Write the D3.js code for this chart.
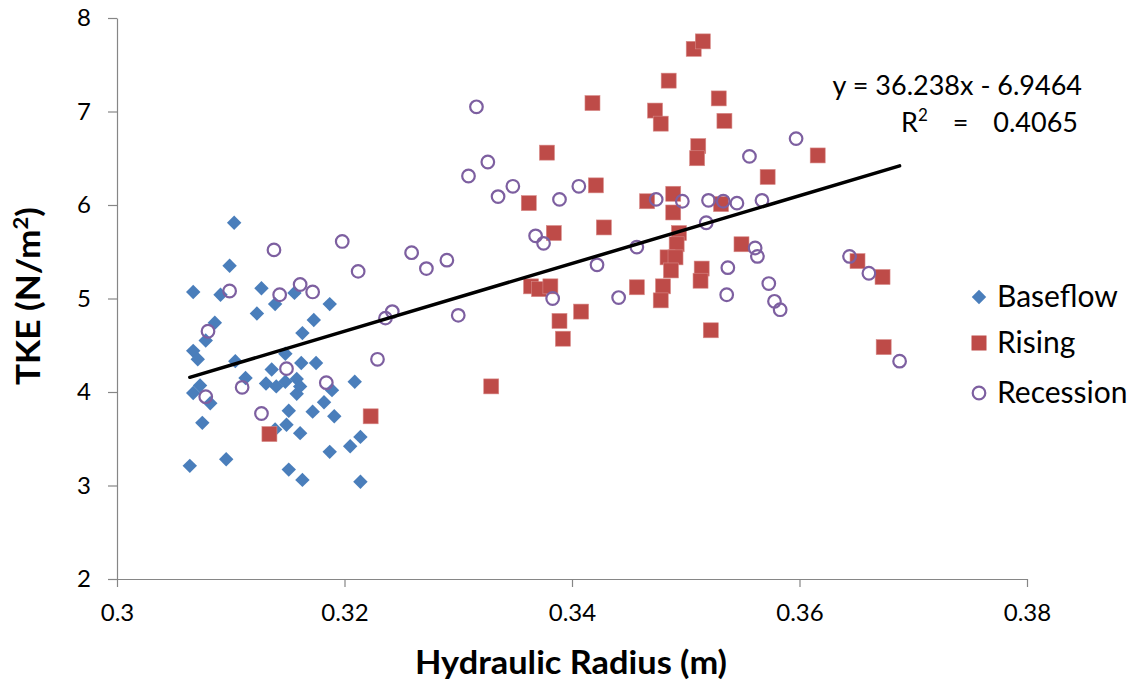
<!DOCTYPE html>
<html>
<head>
<meta charset="utf-8">
<script src="https://cdn.jsdelivr.net/npm/d3@7"></script>
<style>
  html, body { margin: 0; padding: 0; background: #fff; }
  svg { display: block; }
  text { font-family: Lato, "Open Sans", sans-serif; }
</style>
</head>
<body>
<svg id="chart" width="1138" height="683"></svg>
<script>
// ---- data ----
const xTicks = [0.3, 0.32, 0.34, 0.36, 0.38];
const xTickLabels = ["0.3", "0.32", "0.34", "0.36", "0.38"];
const yTicks = [2, 3, 4, 5, 6, 7, 8];
const seriesNames = ["Baseflow", "Rising", "Recession"];

const baseflowX = [0.3064,0.3067,0.3067,0.3071,0.3067,0.3073,0.3075,0.3078,0.3082,0.3086,0.3091,0.3096,0.3099,0.3103,0.3104,0.3113,0.3123,0.3127,0.3131,0.3136,0.3139,0.3140,0.3139,0.3148,0.3148,0.3149,0.3151,0.3151,0.3156,0.3158,0.3158,0.3161,0.3161,0.3162,0.3163,0.3163,0.3173,0.3172,0.3175,0.3182,0.3187,0.3189,0.3187,0.3191,0.3205,0.3209,0.3214,0.3214];
const baseflowY = [3.21,5.07,4.44,4.35,3.99,4.07,3.67,4.55,3.88,4.74,5.04,3.28,5.35,5.81,4.33,4.15,4.84,5.11,4.09,4.24,4.94,4.06,3.60,4.41,4.11,3.65,3.80,3.17,5.06,4.14,3.98,4.06,3.56,4.31,4.63,3.06,4.77,3.79,4.31,3.89,4.94,4.02,3.36,3.74,3.42,4.11,3.52,3.04];

const risingX = [0.3134,0.3223,0.3329,0.3362,0.3378,0.3418,0.3384,0.3364,0.3371,0.3381,0.3389,0.3392,0.3408,0.3421,0.3428,0.3457,0.3466,0.3473,0.3478,0.3485,0.3489,0.3489,0.3494,0.3492,0.3484,0.3491,0.3487,0.3480,0.3478,0.3507,0.3515,0.3511,0.3510,0.3514,0.3513,0.3522,0.3529,0.3534,0.3531,0.3549,0.3572,0.3616,0.3651,0.3673,0.3674];
const risingY = [3.55,3.74,4.06,6.02,6.56,7.09,5.70,5.13,5.10,5.13,4.76,4.57,4.86,6.21,5.76,5.12,6.04,7.01,6.87,7.33,6.12,5.92,5.70,5.58,5.44,5.44,5.30,5.13,4.98,7.67,7.75,6.63,6.50,5.32,5.19,4.66,7.14,6.90,6.01,5.58,6.30,6.53,5.40,5.23,4.48];

const recessionX = [0.3138,0.3198,0.3212,0.3099,0.3161,0.3143,0.3172,0.3236,0.3242,0.3080,0.3149,0.3229,0.3184,0.3110,0.3078,0.3127,0.3316,0.3326,0.3309,0.3348,0.3335,0.3389,0.3406,0.3368,0.3375,0.3259,0.3272,0.3290,0.3422,0.3457,0.3383,0.3441,0.3300,0.3597,0.3556,0.3474,0.3497,0.3520,0.3533,0.3545,0.3567,0.3518,0.3561,0.3563,0.3537,0.3536,0.3573,0.3578,0.3583,0.3644,0.3661,0.3688];
const recessionY = [5.52,5.61,5.29,5.08,5.15,5.04,5.07,4.79,4.86,4.65,4.25,4.35,4.10,4.05,3.95,3.77,7.05,6.46,6.31,6.20,6.09,6.06,6.20,5.67,5.59,5.49,5.32,5.41,5.36,5.55,5.00,5.01,4.82,6.71,6.52,6.06,6.04,6.05,6.04,6.02,6.05,5.81,5.54,5.45,5.33,5.04,5.16,4.97,4.88,5.45,5.27,4.33];

const trendSlope = 36.238;
const trendIntercept = -6.9464;
const trendLabel = "y = 36.238x - 6.9464";
const r2Value = "0.4065";

// ---- layout ----
const svg = d3.select("#chart");
const x = d3.scaleLinear().domain([0.3, 0.38]).range([117, 1027]);
const y = d3.scaleLinear().domain([2, 8]).range([579, 18]);
const axisColor = "#868686";

// axes
const gx = svg.append("g").attr("transform", `translate(0,${y(2)})`)
  .call(d3.axisBottom(x).tickValues(xTicks).tickFormat((d, i) => xTickLabels[i]).tickSize(8).tickSizeOuter(0).tickPadding(17));
const gy = svg.append("g").attr("transform", `translate(${x(0.3)},0)`)
  .call(d3.axisLeft(y).tickValues(yTicks).tickFormat(d3.format("d")).tickSize(9).tickSizeOuter(0).tickPadding(17));
[gx, gy].forEach(g => {
  g.select(".domain").attr("stroke", axisColor).attr("stroke-width", 1.2);
  g.selectAll(".tick line").attr("stroke", axisColor).attr("stroke-width", 1.2);
  g.selectAll(".tick text").attr("fill", "#000").style("font-size", "24px").style("font-family", "Lato, sans-serif");
});

// series
const colors = { Baseflow: "#4A7EBB", Rising: "#BE4B48", Recession: "#7D5FA0" };
const baseflow = baseflowX.map((v, i) => ({ x: v, y: baseflowY[i] }));
const rising = risingX.map((v, i) => ({ x: v, y: risingY[i] }));
const recession = recessionX.map((v, i) => ({ x: v, y: recessionY[i] }));

const diamond = d3.symbol().type(d3.symbolSquare).size(104)();
svg.append("g").selectAll("path").data(baseflow).join("path")
  .attr("d", diamond)
  .attr("transform", d => `translate(${x(d.x)},${y(d.y)}) rotate(45)`)
  .attr("fill", colors.Baseflow);

svg.append("g").selectAll("rect").data(rising).join("rect")
  .attr("x", d => x(d.x) - 7.5).attr("y", d => y(d.y) - 7.5)
  .attr("width", 15).attr("height", 15)
  .attr("fill", colors.Rising).attr("stroke", "#d88a88").attr("stroke-width", 0.6);

svg.append("g").selectAll("circle").data(recession).join("circle")
  .attr("cx", d => x(d.x)).attr("cy", d => y(d.y)).attr("r", 6.3)
  .attr("fill", "none").attr("stroke", colors.Recession).attr("stroke-width", 2.2);

// trend line over data range
const allX = baseflowX.concat(risingX, recessionX);
const xmin = d3.min(allX), xmax = d3.max(allX);
svg.append("line")
  .attr("x1", x(xmin)).attr("y1", y(trendSlope * xmin + trendIntercept))
  .attr("x2", x(xmax)).attr("y2", y(trendSlope * xmax + trendIntercept))
  .attr("stroke", "#000").attr("stroke-width", 3.5).attr("stroke-linecap", "round");

// equation
svg.append("text").attr("x", 1082).attr("y", 95).attr("text-anchor", "end")
  .style("font-size", "27px").text(trendLabel);
const r2 = svg.append("text").attr("x", 1078).attr("y", 132).attr("text-anchor", "end")
  .style("font-size", "27px").style("word-spacing", "18px");
r2.append("tspan").text("R");
r2.append("tspan").text("2").attr("dy", -11).style("font-size", "17px");
r2.append("tspan").text(" = " + r2Value).attr("dy", 11);

// legend
const legendY = [297, 343, 393];
const lg = svg.append("g");
seriesNames.forEach((name, i) => {
  const cy = legendY[i];
  if (name === "Baseflow") {
    lg.append("path").attr("d", diamond).attr("transform", `translate(979,${cy}) rotate(45)`).attr("fill", colors.Baseflow);
  } else if (name === "Rising") {
    lg.append("rect").attr("x", 979 - 7.5).attr("y", cy - 7.5).attr("width", 15).attr("height", 15).attr("fill", colors.Rising);
  } else {
    lg.append("circle").attr("cx", 979).attr("cy", cy).attr("r", 6.3).attr("fill", "none").attr("stroke", colors.Recession).attr("stroke-width", 2.2);
  }
  lg.append("text").attr("x", 997).attr("y", cy + 10).style("font-size", "30px").text(name);
});

// axis titles
svg.append("text").attr("x", 571).attr("y", 674).attr("text-anchor", "middle")
  .attr("textLength", 312).attr("lengthAdjust", "spacingAndGlyphs")
  .style("font-size", "32px").style("font-weight", "bold").text("Hydraulic Radius (m)");
const yt = svg.append("text").attr("transform", "translate(40,296) rotate(-90)").attr("text-anchor", "middle")
  .attr("textLength", 178).attr("lengthAdjust", "spacingAndGlyphs")
  .style("font-size", "32px").style("font-weight", "bold");
yt.append("tspan").text("TKE (N/m");
yt.append("tspan").text("2").attr("dy", -12).style("font-size", "20px");
yt.append("tspan").text(")").attr("dy", 12);
</script>
</body>
</html>
